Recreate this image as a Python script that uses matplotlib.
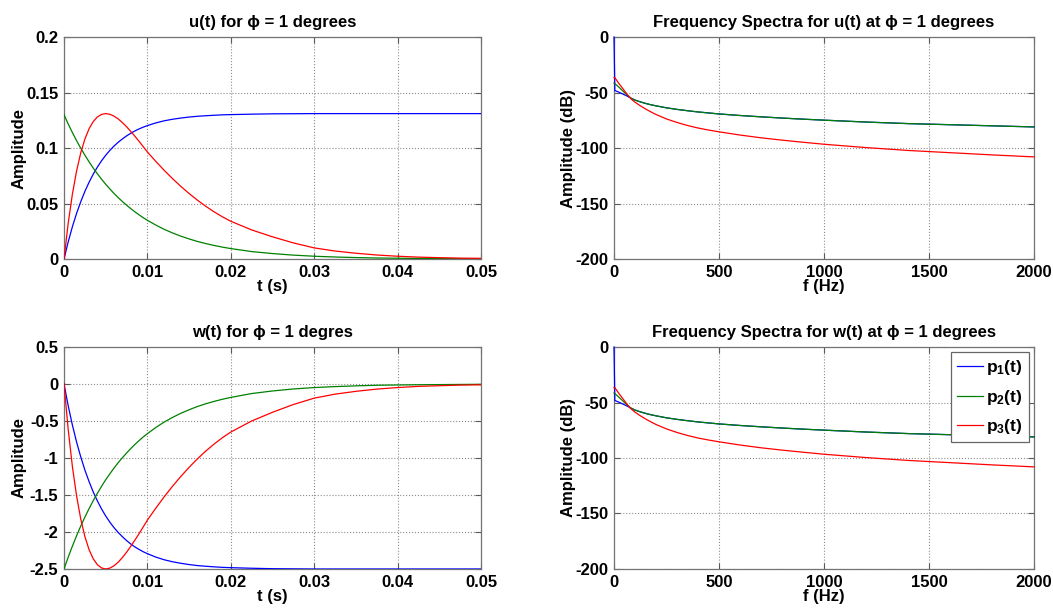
import matplotlib
matplotlib.use('Agg')
from matplotlib import pyplot as plt

plt.rcParams['font.family'] = ['Liberation Sans', 'DejaVu Sans']
plt.rcParams['font.weight'] = 'bold'
plt.rcParams['mathtext.fontset'] = 'custom'
plt.rcParams['mathtext.rm'] = 'Liberation Sans:bold'
plt.rcParams['mathtext.bf'] = 'Liberation Sans:bold'
plt.rcParams['mathtext.it'] = 'Liberation Sans:bold'

# time axis (s)
t = [0, 0.0005, 0.001, 0.0015, 0.002, 0.0025, 0.003, 0.0035, 0.004, 0.0045, 0.005,
     0.0055, 0.006, 0.0065, 0.007, 0.0075, 0.008, 0.0085, 0.009, 0.0095, 0.010,
     0.011, 0.012, 0.013, 0.014, 0.015, 0.016, 0.017, 0.018, 0.019, 0.020,
     0.0225, 0.025, 0.0275, 0.030, 0.0325, 0.035, 0.0375, 0.040, 0.0425, 0.045,
     0.0475, 0.050]

# u(t)
u_p1 = [0, 0.0154, 0.0290, 0.0410, 0.0515, 0.0609, 0.0691, 0.0764, 0.0828, 0.0885,
        0.0935, 0.0979, 0.1018, 0.1052, 0.1082, 0.1109, 0.1133, 0.1154, 0.1172,
        0.1188, 0.1202,
        0.1226, 0.1245, 0.1259, 0.1270, 0.1279, 0.1286, 0.1291, 0.1295, 0.1299, 0.1301,
        0.1305, 0.1308, 0.1309, 0.1310, 0.1310, 0.1310, 0.1310, 0.1310, 0.1310,
        0.1310, 0.1310, 0.1310]
u_p2 = [0.1300, 0.1217, 0.1140, 0.1067, 0.0999, 0.0936, 0.0876, 0.0820, 0.0768,
        0.0719, 0.0673, 0.0631, 0.0590, 0.0553, 0.0518, 0.0485, 0.0454, 0.0425,
        0.0398, 0.0372, 0.0349,
        0.0306, 0.0268, 0.0235, 0.0206, 0.0181, 0.0158, 0.0139, 0.0122, 0.0107, 0.0094,
        0.0067, 0.0049, 0.0035, 0.0025, 0.0018, 0.0013, 0.0009, 0.0007, 0.0005,
        0.0004, 0.0003, 0.0002]
u_p3 = [0, 0.0322, 0.0583, 0.0791, 0.0955, 0.1080, 0.1173, 0.1238, 0.1280, 0.1303,
        0.1310, 0.1304, 0.1287, 0.1262, 0.1229, 0.1192, 0.1150, 0.1106, 0.1060,
        0.1012, 0.0964,
        0.0880, 0.0800, 0.0725, 0.0655, 0.0590, 0.0530, 0.0475, 0.0425, 0.0380, 0.0340,
        0.0262, 0.0200, 0.0145, 0.0100, 0.0072, 0.0052, 0.0036, 0.0025, 0.0017,
        0.0012, 0.0008, 0.0006]

# w(t)
w_p1 = [0, -0.294, -0.553, -0.782, -0.983, -1.162, -1.318, -1.458, -1.580, -1.689,
        -1.784, -1.868, -1.942, -2.007, -2.064, -2.116, -2.162, -2.202, -2.236,
        -2.267, -2.293,
        -2.339, -2.375, -2.402, -2.423, -2.440, -2.454, -2.463, -2.471, -2.478, -2.482,
        -2.490, -2.496, -2.498, -2.500, -2.500, -2.500, -2.500, -2.500, -2.500,
        -2.500, -2.500, -2.500]
w_p2 = [-2.500, -2.340, -2.192, -2.052, -1.921, -1.800, -1.685, -1.577, -1.477,
        -1.383, -1.294, -1.213, -1.135, -1.063, -0.996, -0.933, -0.873, -0.817,
        -0.765, -0.715, -0.671,
        -0.588, -0.515, -0.452, -0.396, -0.348, -0.304, -0.267, -0.235, -0.206, -0.181,
        -0.129, -0.094, -0.067, -0.048, -0.035, -0.025, -0.017, -0.013, -0.010,
        -0.008, -0.006, -0.004]
w_p3 = [0, -0.614, -1.112, -1.509, -1.822, -2.061, -2.238, -2.362, -2.442, -2.486,
        -2.500, -2.488, -2.456, -2.408, -2.345, -2.274, -2.194, -2.110, -2.022,
        -1.931, -1.839,
        -1.679, -1.526, -1.383, -1.250, -1.126, -1.011, -0.906, -0.811, -0.725, -0.649,
        -0.500, -0.382, -0.277, -0.191, -0.137, -0.099, -0.069, -0.048, -0.032,
        -0.023, -0.015, -0.011]

# frequency axis (Hz) and spectra (dB), same for u(t) and w(t)
f = [0, 4, 20, 40, 60, 80, 100, 125, 150, 175, 200, 250, 300, 350, 400, 450, 500,
     600, 700, 800, 900, 1000, 1200, 1400, 1600, 1800, 2000]
spec_p1 = [0, -48.2, -49.4, -51.2, -53.0, -55.0, -56.8, -58.4, -59.8, -61.0, -62.0,
           -63.8, -65.2, -66.4, -67.5, -68.4, -69.3, -70.7, -71.9, -73.0, -74.0,
           -74.9, -76.6, -78.0, -79.0, -80.0, -81.0]
spec_p2 = [-41.6, -42.0, -44.6, -48.2, -51.8, -55.0, -56.8, -58.4, -59.8, -61.0, -62.0,
           -63.8, -65.2, -66.4, -67.5, -68.4, -69.3, -70.7, -71.9, -73.0, -74.0,
           -74.9, -76.6, -78.0, -79.0, -80.0, -81.0]
spec_p3 = [-36.5, -36.6, -41.0, -46.0, -51.0, -55.5, -58.7, -61.9, -64.8, -67.4, -69.8,
           -73.8, -77.0, -79.7, -82.0, -83.8, -85.4, -88.3, -90.8, -92.9, -94.8,
           -96.6, -99.6, -102.2, -104.2, -106.2, -108.0]

t_ticks = [0, 0.01, 0.02, 0.03, 0.04, 0.05]
t_labels = ['0', '0.01', '0.02', '0.03', '0.04', '0.05']
u_ticks = [0, 0.05, 0.1, 0.15, 0.2]
u_labels = ['0', '0.05', '0.1', '0.15', '0.2']
w_ticks = [-2.5, -2, -1.5, -1, -0.5, 0, 0.5]
w_labels = ['-2.5', '-2', '-1.5', '-1', '-0.5', '0', '0.5']
f_ticks = [0, 500, 1000, 1500, 2000]
f_labels = ['0', '500', '1000', '1500', '2000']
db_ticks = [-200, -150, -100, -50, 0]
db_labels = ['-200', '-150', '-100', '-50', '0']

series_labels = [r'$\mathbf{p_1(t)}$', r'$\mathbf{p_2(t)}$', r'$\mathbf{p_3(t)}$']
colors = ['#0000ff', '#008000', '#ff0000']

PHI = '\u03d5'


def style_axes(ax, xticks, xlabels, yticks, ylabels, title, xlabel, ylabel):
    ax.set_xticks(xticks)
    ax.set_xticklabels(xlabels)
    ax.set_yticks(yticks)
    ax.set_yticklabels(ylabels)
    ax.set_xlim(xticks[0], xticks[-1])
    ax.set_ylim(yticks[0], yticks[-1])
    ax.grid(True, linestyle=':', color='0.55', linewidth=0.8)
    ax.set_axisbelow(True)
    ax.tick_params(direction='in', top=True, right=True, length=4, width=0.8,
                   color='0.35', labelsize=12)
    ax.tick_params(axis='x', pad=4)
    ax.tick_params(axis='y', pad=4)
    for sp in ax.spines.values():
        sp.set_color('0.45')
        sp.set_linewidth(0.9)
    ax.set_title(title, fontsize=12, fontweight='bold', pad=7.5)
    ax.set_xlabel(xlabel, fontsize=12, fontweight='bold')
    ax.set_ylabel(ylabel, fontsize=12, fontweight='bold')
    ax.xaxis.set_label_coords(0.5, -0.092)
    ax.yaxis.set_label_coords(-0.09, 0.5)


fig = plt.figure(figsize=(10.53, 6.09), dpi=100)
ax1 = fig.add_axes([0.0608, 0.5747, 0.396, 0.3645])
ax2 = fig.add_axes([0.5831, 0.5747, 0.3989, 0.3645])
ax3 = fig.add_axes([0.0608, 0.0657, 0.396, 0.3645])
ax4 = fig.add_axes([0.5831, 0.0657, 0.3989, 0.3645])

for ys, c in zip([u_p1, u_p2, u_p3], colors):
    ax1.plot(t, ys, color=c, linewidth=0.9, zorder=3)
style_axes(ax1, t_ticks, t_labels, u_ticks, u_labels,
           'u(t) for ' + PHI + ' = 1 degrees', 't (s)', 'Amplitude')

for ys, c in zip([spec_p1, spec_p2, spec_p3], colors):
    ax2.plot(f, ys, color=c, linewidth=0.9, zorder=3, clip_on=False)
style_axes(ax2, f_ticks, f_labels, db_ticks, db_labels,
           'Frequency Spectra for u(t) at ' + PHI + ' = 1 degrees', 'f (Hz)', 'Amplitude (dB)')

for ys, c in zip([w_p1, w_p2, w_p3], colors):
    ax3.plot(t, ys, color=c, linewidth=0.9, zorder=3)
style_axes(ax3, t_ticks, t_labels, w_ticks, w_labels,
           'w(t) for ' + PHI + ' = 1 degres', 't (s)', 'Amplitude')

for ys, c, lab in zip([spec_p1, spec_p2, spec_p3], colors, series_labels):
    ax4.plot(f, ys, color=c, linewidth=0.9, label=lab, zorder=3, clip_on=False)
style_axes(ax4, f_ticks, f_labels, db_ticks, db_labels,
           'Frequency Spectra for w(t) at ' + PHI + ' = 1 degrees', 'f (Hz)', 'Amplitude (dB)')

leg = ax4.legend(loc='upper right', fontsize=12.5, fancybox=False, framealpha=1,
                 edgecolor='0.4', handlelength=1.5, handletextpad=0.2,
                 borderpad=0.35, labelspacing=0.6, borderaxespad=0.3)
leg.get_frame().set_linewidth(0.9)
leg.set_zorder(5)

fig.savefig('out.png', dpi=100)
